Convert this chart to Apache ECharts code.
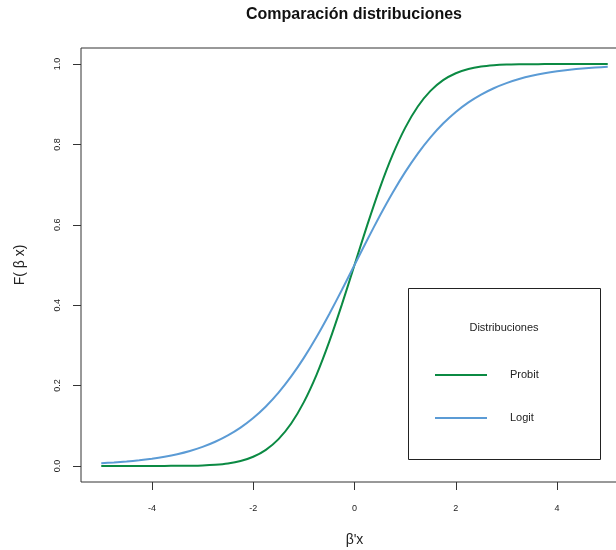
<!DOCTYPE html>
<html>
<head>
<meta charset="utf-8">
<script src="https://cdn.jsdelivr.net/npm/echarts@6/dist/echarts.min.js"></script>
<style>
  html, body { margin: 0; padding: 0; background: #fff; }
  #chart { width: 616px; height: 550px; }
</style>
</head>
<body>
<div id="chart"></div>
<script>
// Evaluation points along β'x
const xs = [-5, -4.75, -4.5, -4.25, -4, -3.75, -3.5, -3.25, -3, -2.75, -2.5, -2.25, -2, -1.75, -1.5, -1.25, -1, -0.75, -0.5, -0.25,
            0, 0.25, 0.5, 0.75, 1, 1.25, 1.5, 1.75, 2, 2.25, 2.5, 2.75, 3, 3.25, 3.5, 3.75, 4, 4.25, 4.5, 4.75, 5];

// Probit: standard normal CDF
const probit = [0.000, 0.000, 0.000, 0.000, 0.0000, 0.0001, 0.0002, 0.0006, 0.0013, 0.0030, 0.0062, 0.0122, 0.0228, 0.0401, 0.0668, 0.1056, 0.1587, 0.2266, 0.3085, 0.4013,
                0.5, 0.5987, 0.6915, 0.7734, 0.8413, 0.8944, 0.9332, 0.9599, 0.9772, 0.9878, 0.9938, 0.9970, 0.9987, 0.9994, 0.9998, 0.9999, 1.000, 1.000, 1.000, 1.000, 1.000];

// Logit: logistic CDF
const logit = [0.0067, 0.0086, 0.0110, 0.0140, 0.0180, 0.0230, 0.0293, 0.0373, 0.0474, 0.0601, 0.0759, 0.0953, 0.1192, 0.1480, 0.1824, 0.2227, 0.2689, 0.3208, 0.3775, 0.4378,
               0.5, 0.5622, 0.6225, 0.6792, 0.7311, 0.7773, 0.8176, 0.8520, 0.8808, 0.9047, 0.9241, 0.9399, 0.9526, 0.9627, 0.9707, 0.9770, 0.9820, 0.9860, 0.9890, 0.9914, 0.9933];

const xTicks = [-4, -2, 0, 2, 4];
const yTicks = [0, 0.2, 0.4, 0.6, 0.8, 1.0];

const seriesNames = ['Probit', 'Logit'];
const seriesColors = ['#0b8a43', '#5b9bd5'];

const FONT = 'Liberation Sans, Arial, sans-serif';
const INK = '#222';

const chart = echarts.init(document.getElementById('chart'), null, { renderer: 'canvas' });

const toPairs = ys => xs.map((x, i) => [x, ys[i]]);

chart.setOption({
  animation: false,
  backgroundColor: '#fff',
  textStyle: { fontFamily: FONT },
  // the plot frame runs past the right edge of the canvas
  grid: {
    left: 81, top: 48, width: 547, height: 434,
    outerBoundsMode: 'none',
    containLabel: false,
    show: true, borderColor: '#333', borderWidth: 1, backgroundColor: 'transparent'
  },
  xAxis: {
    type: 'value',
    min: -5.4, max: 5.4,
    name: "β'x",
    nameLocation: 'middle',
    nameGap: 51,
    nameTextStyle: { fontFamily: FONT, fontSize: 14, color: INK },
    axisLine: { show: false, onZero: false },
    splitLine: { show: false },
    axisTick: { show: true, length: 8, customValues: xTicks, lineStyle: { color: '#333' } },
    axisLabel: { customValues: xTicks, fontSize: 9, color: INK, margin: 22, fontFamily: FONT,
                 formatter: v => String(v) }
  },
  yAxis: {
    type: 'value',
    min: -0.04, max: 1.04,
    name: 'F( β x)',
    nameLocation: 'middle',
    nameRotate: 90,
    nameGap: 54,
    nameTextStyle: { fontFamily: FONT, fontSize: 14, color: INK },
    axisLine: { show: false, onZero: false },
    splitLine: { show: false },
    axisTick: { show: true, length: 8, customValues: yTicks, lineStyle: { color: '#333' } },
    axisLabel: { customValues: yTicks, rotate: 90, fontSize: 9, color: INK, margin: 19, fontFamily: FONT,
                 formatter: v => v.toFixed(1) }
  },
  legend: {
    orient: 'vertical',
    left: 435, top: 368,
    padding: 0,
    itemWidth: 52, itemHeight: 2,
    itemGap: 29,
    icon: 'rect',
    data: seriesNames,
    textStyle: { fontFamily: FONT, fontSize: 11, color: INK, lineHeight: 14, padding: [0, 0, 0, 18] }
  },
  graphic: [
    {
      type: 'text', x: 354, y: 15,
      style: { text: 'Comparación distribuciones', font: 'bold 16px ' + FONT, fill: '#111', align: 'center', verticalAlign: 'middle' }
    },
    {
      type: 'rect', shape: { x: 408.5, y: 288.5, width: 192, height: 171 },
      style: { fill: 'none', stroke: '#222', lineWidth: 1 }, z: 10
    },
    {
      type: 'text', x: 504, y: 328,
      style: { text: 'Distribuciones', font: '11px ' + FONT, fill: INK, align: 'center', verticalAlign: 'middle' }, z: 10
    }
  ],
  series: seriesNames.map((name, i) => ({
    name,
    type: 'line',
    data: toPairs(i === 0 ? probit : logit),
    smooth: 0.2,
    showSymbol: false,
    color: seriesColors[i],
    lineStyle: { width: 2, color: seriesColors[i] }
  }))
});
</script>
</body>
</html>
